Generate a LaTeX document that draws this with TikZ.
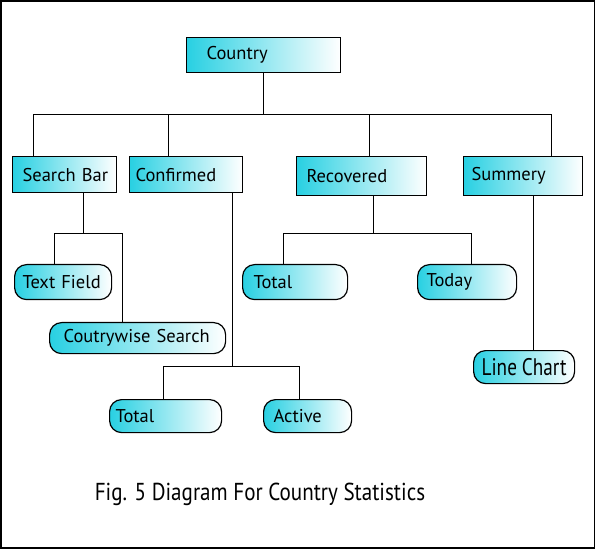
\documentclass[tikz,border=0pt]{standalone}
\usepackage{fontspec}
\setmainfont{PT Sans}
\usetikzlibrary{positioning,calc}
\definecolor{boxcyan}{RGB}{40,208,226}

\begin{document}
\begin{tikzpicture}[
    x=1pt, y=1pt,
    font=\fontsize{18.5}{20}\selectfont,
    line width=1.2pt,
    box/.style={
        draw,
        left color=boxcyan,
        right color=white,
        anchor=north west,
        align=left,
        inner ysep=0pt
    },
    pill/.style={
        box,
        rounded corners=12pt
    },
    link/.style={draw, line width=1.2pt}
]
\useasboundingbox (0,0) rectangle (596,549);
\draw[line width=1.3pt] (1,1) rectangle (594.5,548);

% level 0
\node[box, text width=114pt, inner xsep=20pt, minimum height=35pt] (country) at (186,512) {Country};

% level 1
\node[box, text width=84pt, inner xsep=10pt, minimum height=36pt] (search) at (12,393) {Search~Bar};
\node[box, text width=101pt, inner xsep=6pt, minimum height=36pt] (confirmed) at (129,393) {Confirmed};
\node[box, text width=110pt, inner xsep=10pt, minimum height=39pt] (recovered) at (296,393) {Recovered};
\node[box, text width=103pt, inner xsep=8pt, minimum height=39pt] (summery) at (463,393) {Summery};

% level 2
\node[pill, text width=81pt, inner xsep=8pt, minimum height=35pt] (textfield) at (14,285) {Text~Field};
\node[pill, text width=148pt, inner xsep=14pt, minimum height=31pt] (coutry) at (49,227) {Coutrywise~Search};
\node[pill, text width=83pt, inner xsep=11pt, minimum height=35pt] (total1) at (242,285) {Total};
\node[pill, text width=81pt, inner xsep=9pt, minimum height=35pt] (today) at (417,285) {Today};
\node[pill, text width=91pt, inner xsep=5pt, minimum height=33pt, align=center] (linechart) at (473,199)
    {\scalebox{0.8}[1]{\fontsize{24}{26}\selectfont Line Chart}};
\node[pill, text width=100pt, inner xsep=6pt, minimum height=33pt] (total2) at (109,150) {Total};
\node[pill, text width=68pt, inner xsep=10pt, minimum height=33pt] (active) at (263,150) {Active};

% caption
\node (caption) at (260,55) {\scalebox{0.86}[1]{\fontsize{24.5}{27}\selectfont Fig. 5 Diagram For Country Statistics}};

% connectors
\draw[link] (country.south) -- ++(0,-41) coordinate (bus);
\draw[link] ([xshift=-31pt]search.north) |- (bus) -| ([xshift=28.5pt]summery.north);
\draw[link] ([xshift=-17.5pt]confirmed.north) |- (bus);
\draw[link] ([xshift=8pt]recovered.north) |- (bus);

\draw[link] ([xshift=19pt]search.south) -- ++(0,-40) coordinate (sb);
\draw[link] ([xshift=-8.5pt]textfield.north) |- (sb) -| ([xshift=-15pt]coutry.north);

\draw[link] ([xshift=46.5pt]confirmed.south) -- ++(0,-173) coordinate (cb);
\draw[link] ([xshift=-2pt]total2.north) |- (cb) -| ([xshift=-8pt]active.north);

\draw[link] ([xshift=12pt]recovered.south) -- ++(0,-37) coordinate (rb);
\draw[link] ([xshift=-11.5pt]total1.north) |- (rb) -| ([xshift=4pt]today.north);

\draw[link] ([xshift=10.5pt]summery.south) coordinate (sm) -- (sm |- linechart.north);
\end{tikzpicture}
\end{document}
